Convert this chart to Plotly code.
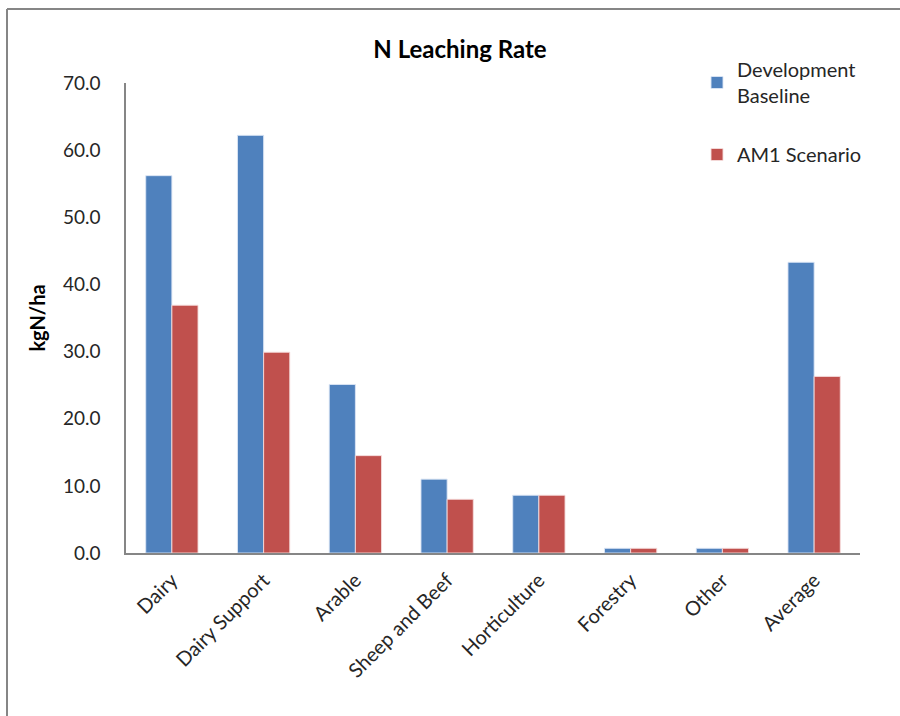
import plotly.graph_objects as go

categories = ["Dairy", "Dairy Support", "Arable", "Sheep and Beef",
              "Horticulture", "Forestry", "Other", "Average"]
baseline = [56.2, 62.2, 25.1, 11.0, 8.6, 0.7, 0.7, 43.3]
am1 = [36.9, 29.9, 14.5, 8.0, 8.6, 0.7, 0.7, 26.3]
y_ticks = [0, 10, 20, 30, 40, 50, 60, 70]

FONT = "Lato, 'Open Sans', sans-serif"
TXT = "#262626"
AXIS = "#868686"

fig = go.Figure()
fig.add_trace(go.Bar(
    x=categories, y=baseline, name="Development<br>Baseline",
    legendgroup="a",
    marker=dict(color="#4F81BD", line=dict(color="rgba(220,230,245,0.9)", width=1)),
))
fig.add_trace(go.Bar(
    x=categories, y=am1, name="AM1 Scenario",
    legendgroup="b",
    marker=dict(color="#C0504D", line=dict(color="rgba(245,220,220,0.9)", width=1)),
))

# plot-area margins in pixels, and helpers to place things in paper units
L, R, T, B = 126, 40, 83, 163
W, H = 900 - L - R, 716 - T - B
def px(x):
    return (x - L) / W
def py(y):
    return (716 - B - y) / H

# outer chart frame (left and top edges visible)
frame = dict(type="line", xref="paper", yref="paper",
             line=dict(color=AXIS, width=2))
fig.add_shape(**frame, x0=px(7), x1=px(7), y0=py(9), y1=py(716))
fig.add_shape(**frame, x0=px(7), x1=px(900), y0=py(9), y1=py(9))

fig.update_layout(
    width=900, height=716,
    margin=dict(l=L, r=R, t=T, b=B),
    paper_bgcolor="white", plot_bgcolor="white",
    barmode="group", bargap=0.43, bargroupgap=0,
    font=dict(family=FONT, color=TXT, size=19),
    title=dict(text="<b>N Leaching Rate</b>", xref="container",
               x=460 / 900, xanchor="center",
               y=1 - 50 / 716, yanchor="middle",
               font=dict(size=24, family=FONT, color="black")),
    legend=dict(x=px(697), xanchor="left", y=py(50), yanchor="top",
                traceorder="grouped", tracegroupgap=30,
                font=dict(size=20, family=FONT, color=TXT),
                bgcolor="rgba(0,0,0,0)", itemwidth=30),
    showlegend=True,
)
fig.update_xaxes(
    showline=True, linecolor=AXIS, linewidth=1.5,
    tickangle=-45, ticks="", showgrid=False,
    ticklabelstandoff=6,
    tickfont=dict(size=20, family=FONT, color=TXT),
)
fig.update_yaxes(
    range=[0, 70], tickvals=y_ticks,
    ticktext=[f"{v:.1f}" for v in y_ticks],
    showline=True, linecolor=AXIS, linewidth=1.5,
    showgrid=False, zeroline=False, ticks="",
    ticklabelstandoff=20,
    tickfont=dict(size=19, family=FONT, color=TXT),
    title=dict(text="<b>kgN/ha</b>", standoff=12,
               font=dict(size=20, family=FONT, color="black")),
)

fig.write_html("out.html")
